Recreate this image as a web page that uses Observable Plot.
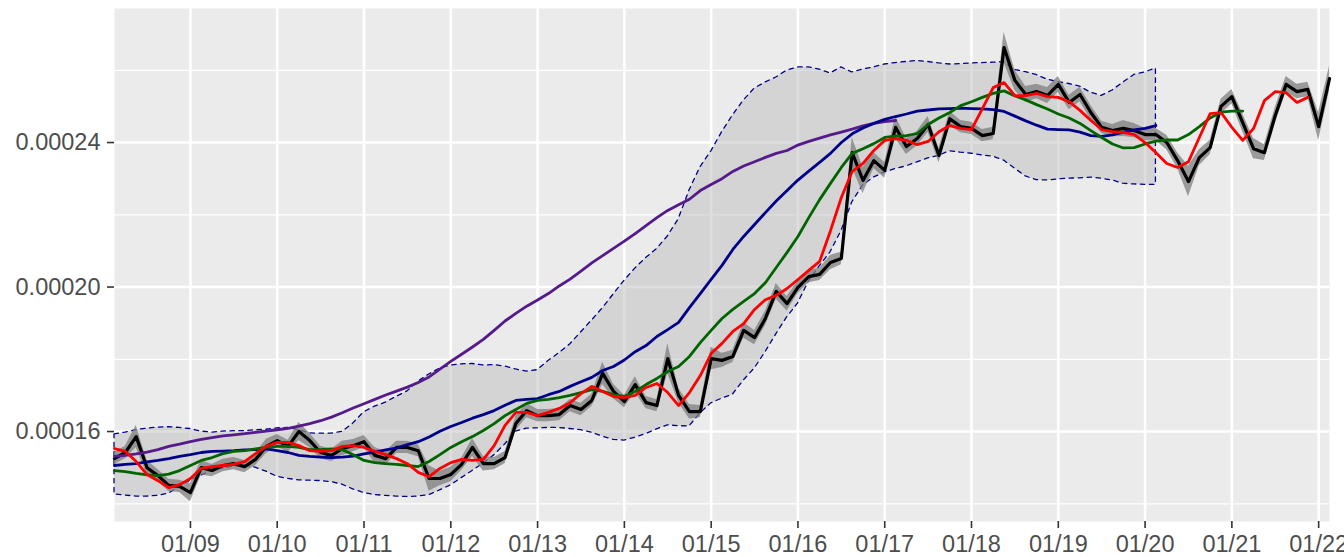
<!DOCTYPE html>
<html><head><meta charset="utf-8">
<script src="https://cdn.jsdelivr.net/npm/d3@7"></script>
<script src="https://cdn.jsdelivr.net/npm/@observablehq/plot@0.6"></script>
<style>body{margin:0;background:#fff;}</style>
</head><body><div id="chart"></div>
<script>
// time axis: 3-hourly observations starting 01/08 03:00
const startTime = "2021-01-08T03:00:00Z";
const stepHours = 3;
const xDomain = ["2021-01-08T03:00:00Z", "2021-01-22T03:00:00Z"];
const xTickDates = ["2021-01-09","2021-01-10","2021-01-11","2021-01-12","2021-01-13","2021-01-14","2021-01-15","2021-01-16","2021-01-17","2021-01-18","2021-01-19","2021-01-20","2021-01-21","2021-01-22"];
const xTickLabels = ["01/09","01/10","01/11","01/12","01/13","01/14","01/15","01/16","01/17","01/18","01/19","01/20","01/21","01/22"];
const yTicks = [0.00016, 0.00020, 0.00024];
const yTickLabels = ["0.00016", "0.00020", "0.00024"];
const yMinor = [0.00014, 0.00018, 0.00022, 0.00026];
const yDomain = [13.51e-5, 27.71e-5];

const price = [15.25e-5,15.42e-5,15.86e-5,15.00e-5,14.78e-5,14.51e-5,14.48e-5,14.31e-5,15.00e-5,14.92e-5,
15.06e-5,15.11e-5,15.03e-5,15.23e-5,15.59e-5,15.75e-5,15.59e-5,16.00e-5,15.75e-5,15.42e-5,
15.34e-5,15.53e-5,15.61e-5,15.72e-5,15.34e-5,15.25e-5,15.56e-5,15.56e-5,15.47e-5,14.70e-5,
14.70e-5,14.81e-5,15.09e-5,15.56e-5,15.11e-5,15.11e-5,15.28e-5,16.22e-5,16.58e-5,16.44e-5,
16.44e-5,16.47e-5,16.72e-5,16.61e-5,16.86e-5,17.61e-5,17.11e-5,16.83e-5,17.30e-5,16.80e-5,
16.72e-5,18.02e-5,17.00e-5,16.55e-5,16.55e-5,18.02e-5,17.97e-5,18.08e-5,18.80e-5,18.60e-5,
19.13e-5,19.88e-5,19.54e-5,19.99e-5,20.29e-5,20.35e-5,20.68e-5,20.79e-5,23.72e-5,22.95e-5,
23.50e-5,23.23e-5,24.42e-5,23.89e-5,24.11e-5,24.50e-5,23.64e-5,24.66e-5,24.44e-5,24.39e-5,
24.19e-5,24.25e-5,26.63e-5,25.72e-5,25.33e-5,25.41e-5,25.30e-5,25.61e-5,25.11e-5,25.33e-5,
24.83e-5,24.42e-5,24.33e-5,24.39e-5,24.33e-5,24.22e-5,24.22e-5,24.00e-5,23.50e-5,22.92e-5,
23.58e-5,23.86e-5,25.00e-5,25.27e-5,24.55e-5,23.83e-5,23.72e-5,24.75e-5,25.61e-5,25.41e-5,
25.47e-5,24.44e-5,25.77e-5];

const priceSpread = [0.17e-5,0.17e-5,0.31e-5,0.20e-5,0.17e-5,0.17e-5,0.17e-5,0.25e-5,0.20e-5,0.17e-5,
0.17e-5,0.17e-5,0.17e-5,0.17e-5,0.20e-5,0.17e-5,0.17e-5,0.25e-5,0.20e-5,0.17e-5,
0.17e-5,0.20e-5,0.17e-5,0.17e-5,0.22e-5,0.20e-5,0.17e-5,0.17e-5,0.17e-5,0.35e-5,
0.20e-5,0.20e-5,0.17e-5,0.25e-5,0.20e-5,0.17e-5,0.17e-5,0.20e-5,0.20e-5,0.17e-5,
0.17e-5,0.17e-5,0.17e-5,0.17e-5,0.17e-5,0.31e-5,0.20e-5,0.17e-5,0.22e-5,0.17e-5,
0.17e-5,0.42e-5,0.20e-5,0.20e-5,0.17e-5,0.31e-5,0.20e-5,0.17e-5,0.22e-5,0.20e-5,
0.20e-5,0.22e-5,0.20e-5,0.17e-5,0.17e-5,0.17e-5,0.20e-5,0.17e-5,0.42e-5,0.36e-5,
0.22e-5,0.22e-5,0.31e-5,0.22e-5,0.20e-5,0.22e-5,0.20e-5,0.20e-5,0.17e-5,0.17e-5,
0.17e-5,0.17e-5,0.42e-5,0.28e-5,0.22e-5,0.20e-5,0.22e-5,0.22e-5,0.20e-5,0.20e-5,
0.20e-5,0.17e-5,0.17e-5,0.22e-5,0.20e-5,0.17e-5,0.17e-5,0.20e-5,0.22e-5,0.42e-5,
0.22e-5,0.20e-5,0.20e-5,0.20e-5,0.25e-5,0.28e-5,0.22e-5,0.22e-5,0.22e-5,0.20e-5,
0.20e-5,0.39e-5,0.34e-5];

const redLine = [15.53e-5,15.45e-5,15.17e-5,14.81e-5,14.64e-5,14.45e-5,14.53e-5,14.70e-5,14.98e-5,15.03e-5,
15.06e-5,15.09e-5,15.17e-5,15.39e-5,15.59e-5,15.70e-5,15.70e-5,15.61e-5,15.47e-5,15.45e-5,
15.47e-5,15.59e-5,15.61e-5,15.56e-5,15.45e-5,15.36e-5,15.25e-5,15.11e-5,14.87e-5,14.75e-5,
14.98e-5,15.14e-5,15.23e-5,15.20e-5,15.23e-5,15.61e-5,16.17e-5,16.53e-5,16.53e-5,16.44e-5,
16.53e-5,16.64e-5,16.80e-5,17.05e-5,17.25e-5,17.11e-5,16.97e-5,16.94e-5,17.00e-5,17.22e-5,
17.33e-5,17.08e-5,16.72e-5,17.08e-5,17.55e-5,18.16e-5,18.44e-5,18.77e-5,18.99e-5,19.38e-5,
19.65e-5,19.77e-5,19.96e-5,20.21e-5,20.46e-5,20.71e-5,21.56e-5,22.48e-5,23.20e-5,23.42e-5,
23.78e-5,24.06e-5,24.11e-5,24.06e-5,23.94e-5,24.03e-5,24.30e-5,24.47e-5,24.39e-5,24.36e-5,
24.94e-5,25.52e-5,25.66e-5,25.30e-5,25.30e-5,25.36e-5,25.27e-5,25.25e-5,25.13e-5,24.89e-5,
24.61e-5,24.36e-5,24.30e-5,24.28e-5,24.22e-5,24.00e-5,23.72e-5,23.42e-5,23.31e-5,23.47e-5,
24.14e-5,24.80e-5,24.83e-5,24.42e-5,24.06e-5,24.39e-5,25.16e-5,25.41e-5,25.38e-5,25.11e-5,
25.25e-5];

const greenLine = [14.92e-5,14.89e-5,14.84e-5,14.80e-5,14.78e-5,14.82e-5,14.92e-5,15.06e-5,15.20e-5,15.28e-5,
15.39e-5,15.45e-5,15.47e-5,15.52e-5,15.56e-5,15.59e-5,15.59e-5,15.56e-5,15.50e-5,15.50e-5,
15.52e-5,15.50e-5,15.36e-5,15.20e-5,15.14e-5,15.11e-5,15.09e-5,15.06e-5,15.03e-5,15.17e-5,
15.36e-5,15.56e-5,15.72e-5,15.86e-5,16.03e-5,16.22e-5,16.44e-5,16.61e-5,16.78e-5,16.86e-5,
16.89e-5,16.94e-5,17.00e-5,17.08e-5,17.16e-5,17.11e-5,17.02e-5,16.97e-5,17.11e-5,17.30e-5,
17.47e-5,17.66e-5,17.80e-5,18.08e-5,18.46e-5,18.80e-5,19.13e-5,19.38e-5,19.60e-5,19.82e-5,
20.12e-5,20.54e-5,20.96e-5,21.40e-5,21.92e-5,22.42e-5,22.87e-5,23.31e-5,23.70e-5,23.83e-5,
23.97e-5,24.14e-5,24.18e-5,24.19e-5,24.25e-5,24.50e-5,24.68e-5,24.83e-5,25.02e-5,25.13e-5,
25.25e-5,25.36e-5,25.43e-5,25.29e-5,25.18e-5,25.05e-5,24.93e-5,24.79e-5,24.68e-5,24.53e-5,
24.33e-5,24.14e-5,23.96e-5,23.85e-5,23.86e-5,23.96e-5,24.04e-5,24.07e-5,24.07e-5,24.22e-5,
24.44e-5,24.68e-5,24.84e-5,24.87e-5,24.87e-5];

const navyLine = [15.06e-5,15.09e-5,15.11e-5,15.16e-5,15.20e-5,15.25e-5,15.31e-5,15.36e-5,15.42e-5,15.45e-5,
15.46e-5,15.47e-5,15.49e-5,15.50e-5,15.52e-5,15.47e-5,15.42e-5,15.34e-5,15.31e-5,15.29e-5,
15.28e-5,15.29e-5,15.32e-5,15.38e-5,15.43e-5,15.49e-5,15.54e-5,15.64e-5,15.72e-5,15.85e-5,
16.01e-5,16.14e-5,16.25e-5,16.37e-5,16.47e-5,16.58e-5,16.73e-5,16.86e-5,16.89e-5,16.91e-5,
17.02e-5,17.11e-5,17.25e-5,17.38e-5,17.50e-5,17.69e-5,17.80e-5,17.98e-5,18.21e-5,18.38e-5,
18.63e-5,18.82e-5,19.02e-5,19.43e-5,19.82e-5,20.21e-5,20.60e-5,21.04e-5,21.40e-5,21.73e-5,
22.06e-5,22.38e-5,22.67e-5,22.96e-5,23.21e-5,23.45e-5,23.70e-5,24.00e-5,24.24e-5,24.40e-5,
24.53e-5,24.64e-5,24.72e-5,24.79e-5,24.87e-5,24.90e-5,24.93e-5,24.94e-5,24.95e-5,24.94e-5,
24.93e-5,24.91e-5,24.86e-5,24.73e-5,24.60e-5,24.48e-5,24.37e-5,24.36e-5,24.35e-5,24.29e-5,
24.19e-5,24.17e-5,24.21e-5,24.29e-5,24.35e-5,24.39e-5,24.47e-5];

const purpleLine = [15.31e-5,15.34e-5,15.38e-5,15.43e-5,15.50e-5,15.59e-5,15.65e-5,15.72e-5,15.78e-5,15.83e-5,
15.88e-5,15.91e-5,15.94e-5,15.98e-5,16.01e-5,16.05e-5,16.09e-5,16.15e-5,16.22e-5,16.30e-5,
16.40e-5,16.52e-5,16.65e-5,16.77e-5,16.89e-5,17.01e-5,17.12e-5,17.23e-5,17.36e-5,17.51e-5,
17.73e-5,17.94e-5,18.14e-5,18.34e-5,18.55e-5,18.80e-5,19.06e-5,19.27e-5,19.47e-5,19.64e-5,
19.82e-5,20.03e-5,20.22e-5,20.44e-5,20.67e-5,20.87e-5,21.07e-5,21.27e-5,21.48e-5,21.70e-5,
21.92e-5,22.12e-5,22.28e-5,22.43e-5,22.67e-5,22.84e-5,23.00e-5,23.20e-5,23.35e-5,23.47e-5,
23.59e-5,23.70e-5,23.78e-5,23.93e-5,24.03e-5,24.12e-5,24.21e-5,24.29e-5,24.37e-5,24.46e-5,
24.53e-5,24.58e-5,24.61e-5];

const bandUpper = [15.92e-5,15.97e-5,16.04e-5,16.08e-5,16.11e-5,16.12e-5,16.10e-5,16.07e-5,16.00e-5,15.97e-5,
16.00e-5,16.01e-5,16.01e-5,16.04e-5,16.05e-5,16.09e-5,16.10e-5,16.04e-5,15.95e-5,15.94e-5,
15.94e-5,15.99e-5,16.22e-5,16.53e-5,16.69e-5,16.80e-5,16.96e-5,17.11e-5,17.38e-5,17.58e-5,
17.74e-5,17.83e-5,17.86e-5,17.87e-5,17.83e-5,17.84e-5,17.80e-5,17.72e-5,17.66e-5,17.70e-5,
17.95e-5,18.17e-5,18.41e-5,18.74e-5,19.07e-5,19.41e-5,19.79e-5,20.17e-5,20.51e-5,20.80e-5,
21.05e-5,21.40e-5,21.87e-5,22.67e-5,23.31e-5,23.75e-5,24.28e-5,24.75e-5,25.16e-5,25.49e-5,
25.66e-5,25.80e-5,25.99e-5,26.08e-5,26.08e-5,26.02e-5,25.91e-5,26.08e-5,25.94e-5,26.02e-5,
26.08e-5,26.16e-5,26.20e-5,26.23e-5,26.26e-5,26.23e-5,26.19e-5,26.16e-5,26.17e-5,26.19e-5,
26.20e-5,26.21e-5,26.23e-5,26.01e-5,25.95e-5,25.87e-5,25.74e-5,25.67e-5,25.62e-5,25.55e-5,
25.38e-5,25.29e-5,25.44e-5,25.66e-5,25.87e-5,25.94e-5,26.05e-5];

const bandLower = [14.26e-5,14.23e-5,14.20e-5,14.20e-5,14.22e-5,14.28e-5,14.46e-5,14.64e-5,14.78e-5,14.91e-5,
14.98e-5,15.03e-5,15.05e-5,15.00e-5,14.89e-5,14.75e-5,14.69e-5,14.65e-5,14.64e-5,14.63e-5,
14.60e-5,14.53e-5,14.40e-5,14.30e-5,14.24e-5,14.22e-5,14.20e-5,14.19e-5,14.20e-5,14.24e-5,
14.37e-5,14.51e-5,14.71e-5,14.91e-5,15.11e-5,15.34e-5,15.64e-5,16.00e-5,16.08e-5,16.09e-5,
16.10e-5,16.10e-5,16.07e-5,16.04e-5,15.97e-5,15.86e-5,15.77e-5,15.75e-5,15.83e-5,15.93e-5,
16.06e-5,16.17e-5,16.15e-5,16.14e-5,16.50e-5,16.78e-5,16.91e-5,17.02e-5,17.41e-5,17.74e-5,
18.19e-5,18.69e-5,19.16e-5,19.54e-5,20.15e-5,20.57e-5,20.96e-5,21.54e-5,22.34e-5,22.81e-5,
23.03e-5,23.17e-5,23.27e-5,23.34e-5,23.45e-5,23.56e-5,23.63e-5,23.76e-5,23.72e-5,23.69e-5,
23.64e-5,23.61e-5,23.50e-5,23.28e-5,23.06e-5,22.96e-5,22.95e-5,22.98e-5,23.00e-5,23.01e-5,
23.03e-5,23.00e-5,22.95e-5,22.86e-5,22.84e-5,22.83e-5,22.83e-5];

// build tables
const t0 = Date.parse(startTime);
const dates = price.map((_, i) => new Date(t0 + i * stepHours * 3600e3));
const priceData = price.map((v, i) => ({date: dates[i], value: v, low: v - priceSpread[i], high: v + priceSpread[i]}));
const bandData = bandUpper.map((u, i) => ({date: dates[i], upper: u, lower: bandLower[i]}));
const series = vals => vals.map((v, i) => ({date: dates[i], value: v}));
const xTicks = xTickDates.map(d => new Date(d + "T00:00:00Z"));
const xLabelMap = new Map(xTicks.map((d, i) => [+d, xTickLabels[i]]));
const yLabelMap = new Map(yTicks.map((d, i) => [d, yTickLabels[i]]));

const lineOpts = (color, w) => ({x: "date", y: "value", stroke: color, strokeWidth: w, curve: "linear", strokeLinejoin: "round"});

const chart = Plot.plot({
  width: 1344, height: 557,
  marginLeft: 114, marginRight: 15, marginTop: 8, marginBottom: 36,
  style: {fontFamily: "'Liberation Sans', Arial, sans-serif", fontSize: "23.5px", background: "#ffffff", overflow: "hidden"},
  x: {type: "utc", domain: xDomain.map(d => new Date(d))},
  y: {domain: yDomain},
  marks: [
    Plot.frame({fill: "#ebebeb", stroke: null}),
    Plot.ruleY(yMinor, {stroke: "#ffffff", strokeWidth: 1.3}),
    Plot.ruleY(yTicks, {stroke: "#ffffff", strokeWidth: 2.6}),
    Plot.ruleX(xTicks, {stroke: "#ffffff", strokeWidth: 2.6}),
    Plot.areaY(bandData, {x: "date", y1: "lower", y2: "upper", fill: "#bebebe", fillOpacity: 0.5,
      stroke: "#00008b", strokeWidth: 1.3, strokeDasharray: "4.5,4.5"}),
    Plot.areaY(priceData, {x: "date", y1: "low", y2: "high", fill: "#7f7f7f", fillOpacity: 0.75}),
    Plot.lineY(priceData, lineOpts("#000000", 3.2)),
    Plot.lineY(series(purpleLine), lineOpts("#551a8b", 2.8)),
    Plot.lineY(series(navyLine), lineOpts("#00008b", 2.8)),
    Plot.lineY(series(greenLine), lineOpts("#006400", 2.8)),
    Plot.lineY(series(redLine), lineOpts("#ff0000", 2.8)),
    Plot.axisX(xTicks, {tickSize: 7, tickPadding: 7, tickFormat: d => xLabelMap.get(+d),
      stroke: "#333333", fill: "#4d4d4d", strokeWidth: 1.6, fontSize: 23.5, label: null}),
    Plot.axisY(yTicks, {tickSize: 7, tickPadding: 7, tickFormat: d => yLabelMap.get(d),
      stroke: "#333333", fill: "#4d4d4d", strokeWidth: 1.6, fontSize: 23.5, label: null})
  ]
});
document.getElementById("chart").appendChild(chart);
</script>
</body></html>
